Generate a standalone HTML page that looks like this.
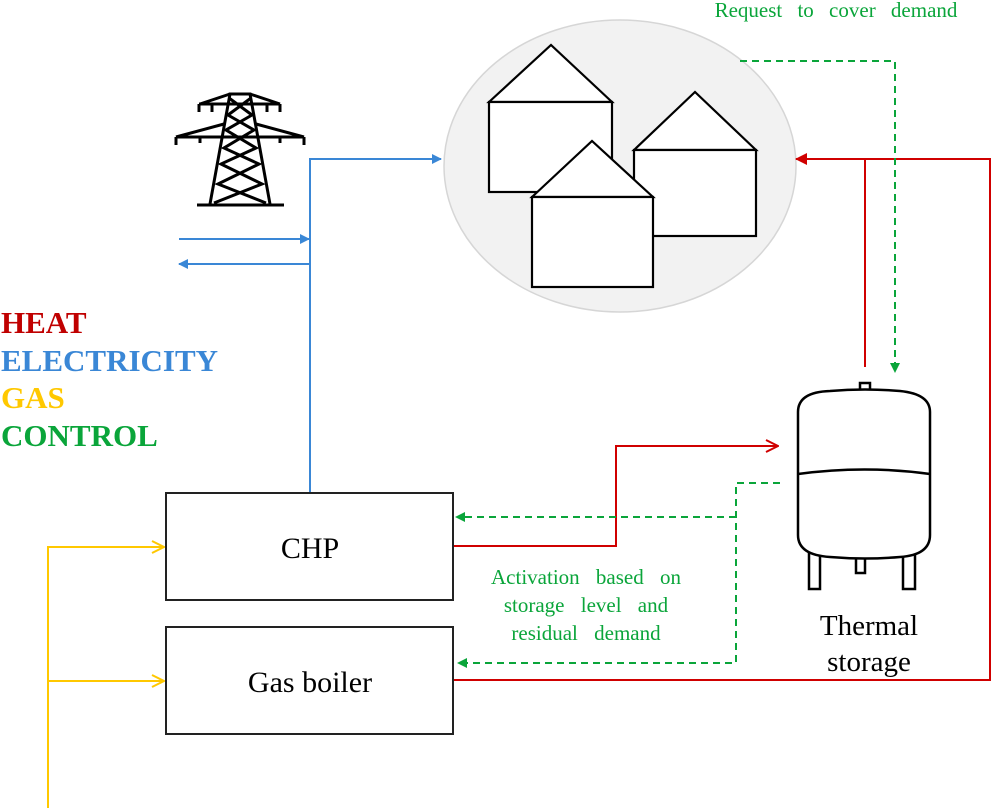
<!DOCTYPE html>
<html><head><meta charset="utf-8"><style>
html,body{margin:0;padding:0;background:#fff;}
svg{display:block;}
</style></head><body>
<svg width="992" height="808" viewBox="0 0 992 808" xmlns="http://www.w3.org/2000/svg" font-family="'Liberation Serif', serif">
<defs>
<marker id="ab" markerWidth="10" markerHeight="10" refX="9" refY="5" orient="auto" markerUnits="userSpaceOnUse"><path d="M0,0 L10,5 L0,10 z" fill="#3a87d6"/></marker>
<marker id="ar" markerWidth="12" markerHeight="12" refX="11" refY="6" orient="auto" markerUnits="userSpaceOnUse"><path d="M0,0 L12,6 L0,12 z" fill="#d00000"/></marker>
<marker id="aro" markerWidth="14" markerHeight="14" refX="13" refY="7" orient="auto" markerUnits="userSpaceOnUse"><path d="M1,1 L13,7 L1,13" fill="none" stroke="#d00000" stroke-width="2"/></marker>
<marker id="ayo" markerWidth="14" markerHeight="14" refX="13" refY="7" orient="auto" markerUnits="userSpaceOnUse"><path d="M1,1 L13,7 L1,13" fill="none" stroke="#ffc800" stroke-width="2"/></marker>
</defs>

<ellipse cx="620" cy="166" rx="176" ry="146" fill="#f2f2f2" stroke="#d6d6d6" stroke-width="1.5"/>
<g fill="#fff" stroke="#000" stroke-width="2.2">
<path d="M489,102 L551,45 L612,102 Z"/><rect x="489" y="102" width="123" height="90"/>
<path d="M634,150 L695,92 L756,150 Z"/><rect x="634" y="150" width="122" height="86"/>
<path d="M532,197 L592,141 L653,197 Z"/><rect x="532" y="197" width="121" height="90"/>
</g>

<g stroke="#000" stroke-width="3" fill="none">
<path d="M210,204 L230,94 L250,94 L270,204"/>
<path d="M197,205 L284,205"/>
<path d="M200,104 L230,94 M250,94 L280,104 M199,104 L280,104 M199,104 v8 M212,104 v8 M267,104 v8 M280,104 v8"/>
<path d="M176,137 L224,124 M256,124 L304,137 M176,137 L304,137 M176,137 v8 M200,137 v6 M280,137 v6 M304,137 v8"/>
<path d="M229,98 L252,115 L226,130 L256,148 L221,164 L262,184 L214,203 M251,98 L228,115 L254,130 L224,148 L259,164 L218,184 L266,203"/>
</g>

<g stroke="#3a87d6" stroke-width="2" fill="none">
<path d="M310,492 L310,159 L441,159" marker-end="url(#ab)"/>
<path d="M179,239 L309,239" marker-end="url(#ab)"/>
<path d="M310,264 L179,264" marker-end="url(#ab)"/>
</g>

<g font-weight="bold" font-size="31">
<text x="1" y="333" fill="#c00000">HEAT</text>
<text x="1" y="371" fill="#3a87d6">ELECTRICITY</text>
<text x="1" y="408" fill="#ffc800">GAS</text>
<text x="1" y="446" fill="#0aa53a">CONTROL</text>
</g>

<rect x="166" y="493" width="287" height="107" fill="#fff" stroke="#222" stroke-width="2"/>
<rect x="166" y="627" width="287" height="107" fill="#fff" stroke="#222" stroke-width="2"/>
<text x="310" y="558" font-size="30" text-anchor="middle">CHP</text>
<text x="310" y="692" font-size="30" text-anchor="middle">Gas boiler</text>

<g stroke="#ffc800" stroke-width="2" fill="none">
<path d="M48,808 L48,547 L164,547" marker-end="url(#ayo)"/>
<path d="M48,681 L164,681" marker-end="url(#ayo)"/>
</g>

<g stroke="#d00000" stroke-width="2" fill="none">
<path d="M454,546 L616,546 L616,446 L778,446" marker-end="url(#aro)"/>
<path d="M454,680 L990,680 L990,159 L796,159" marker-end="url(#ar)"/>
<path d="M865,159 L865,367"/>
</g>

<g stroke="#0aa53a" stroke-width="2" fill="none" stroke-dasharray="7,5">
<path d="M740,61 L895,61 L895,368"/>
<path d="M780,483 L736,483 L736,663 L462,663"/>
<path d="M736,517 L460,517"/>
</g>
<path d="M890,363 L900,363 L895,373 Z" fill="#0aa53a"/>
<path d="M455,517 L465,512 L465,522 Z" fill="#0aa53a"/>
<path d="M457,663 L467,658 L467,668 Z" fill="#0aa53a"/>

<g stroke="#000" stroke-width="2.5" fill="#fff">
<rect x="809" y="548" width="11" height="41"/>
<rect x="903" y="548" width="12" height="41"/>
<rect x="856" y="553" width="9" height="20"/>
<rect x="860" y="383" width="10" height="9"/>
<path d="M798,412 Q798,392 830,391 Q865,388 900,391 Q930,394 930,412 L930,535 Q930,555 900,557 Q865,560 830,557 Q798,555 798,535 Z"/>
<path d="M798,474 Q865,465 930,474" fill="none"/>
</g>
<text x="869" y="635" font-size="29" text-anchor="middle">Thermal</text>
<text x="869" y="671" font-size="29" text-anchor="middle">storage</text>

<text x="836" y="17" font-size="21" word-spacing="10" fill="#0aa53a" text-anchor="middle">Request to cover demand</text>
<g font-size="21" word-spacing="11" fill="#0aa53a" text-anchor="middle">
<text x="586" y="584">Activation based on</text>
<text x="586" y="612">storage level and</text>
<text x="586" y="640">residual demand</text>
</g>
</svg>
</body></html>
